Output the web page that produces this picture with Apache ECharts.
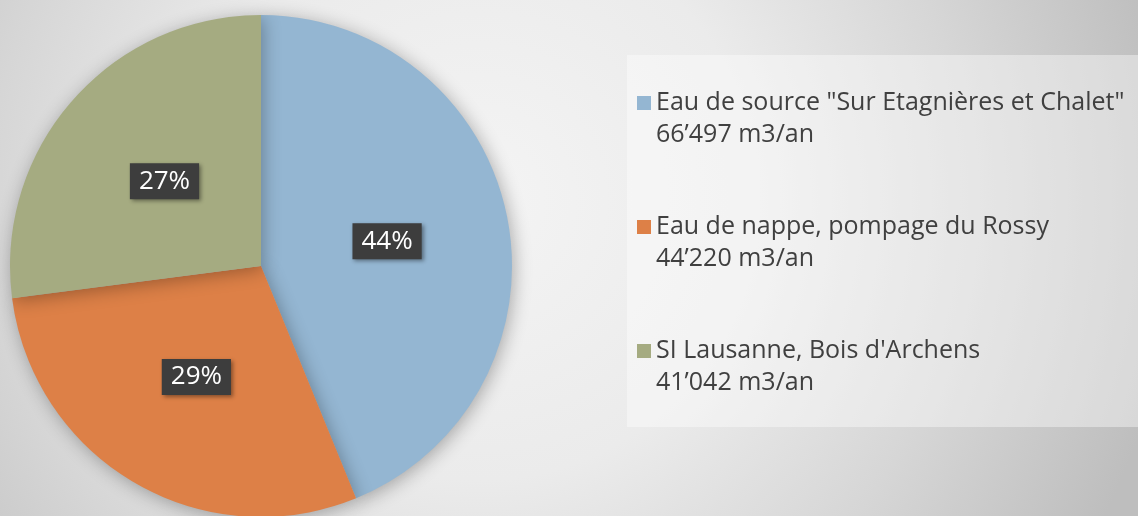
<!DOCTYPE html>
<html>
<head lang="fr">
    <meta charset="UTF-8">
    <title>Provenance de l'eau</title>
    <script src="https://cdn.jsdelivr.net/npm/echarts@6/dist/echarts.min.js"></script>
    <style>
        html, body { margin: 0; padding: 0; }
        #container { width: 1138px; height: 516px; }
    </style>
</head>
<body>
<div id="container"></div>
<script>
    var sources = ['Eau de source "Sur Etagnières et Chalet"', 'Eau de nappe, pompage du Rossy', "SI Lausanne, Bois d'Archens"];
    var volumes = [66497, 44220, 41042];
    var colors = ['#94b6d2', '#dd8047', '#a5ab81'];

    function fmt(v) {
        var s = String(v);
        return s.slice(0, s.length - 3) + '\u2019' + s.slice(s.length - 3);
    }

    var data = sources.map(function (s, i) {
        return { name: s, value: volumes[i], itemStyle: { color: colors[i] } };
    });

    var myChart = echarts.init(document.getElementById('container'));
    myChart.setOption({
        backgroundColor: {
            type: 'radial', x: 480, y: 200, r: 700, global: true,
            colorStops: [
                { offset: 0, color: '#f4f4f4' },
                { offset: 0.4, color: '#ebebeb' },
                { offset: 0.7, color: '#d6d6d6' },
                { offset: 1, color: '#bebebe' }
            ]
        },
        textStyle: { fontFamily: 'Open Sans' },
        graphic: [{
            type: 'rect', z: -1,
            shape: { x: 627, y: 55, width: 520, height: 372 },
            style: { fill: 'rgba(255,255,255,0.4)' }
        }],
        legend: {
            orient: 'vertical',
            left: 632,
            top: 50,
            itemWidth: 14,
            itemHeight: 14,
            itemGap: 28,
            icon: 'rect',
            data: sources,
            // leading blank line keeps the square level with the first line
            formatter: function (name) {
                return '\n' + name + '\n' + fmt(volumes[sources.indexOf(name)]) + ' m3/an';
            },
            textStyle: { fontSize: 25, color: '#404040', lineHeight: 32 }
        },
        series: [{
            type: 'pie',
            center: [261, 266],
            radius: [0, 251],
            startAngle: 90,
            clockwise: true,
            data: data,
            itemStyle: {
                shadowBlur: 18,
                shadowColor: 'rgba(0,0,0,0.3)',
                shadowOffsetX: 2,
                shadowOffsetY: 3
            },
            label: {
                position: 'inside',
                formatter: function (p) { return Math.round(p.percent) + '%'; },
                color: '#fff',
                fontSize: 26,
                backgroundColor: '#3d3d3d',
                padding: [6, 9, 4, 9],
                shadowBlur: 4,
                shadowColor: 'rgba(0,0,0,0.4)',
                shadowOffsetX: 2,
                shadowOffsetY: 2
            },
            labelLine: { show: false },
            emphasis: { disabled: true }
        }]
    });
</script>
</body>
</html>
